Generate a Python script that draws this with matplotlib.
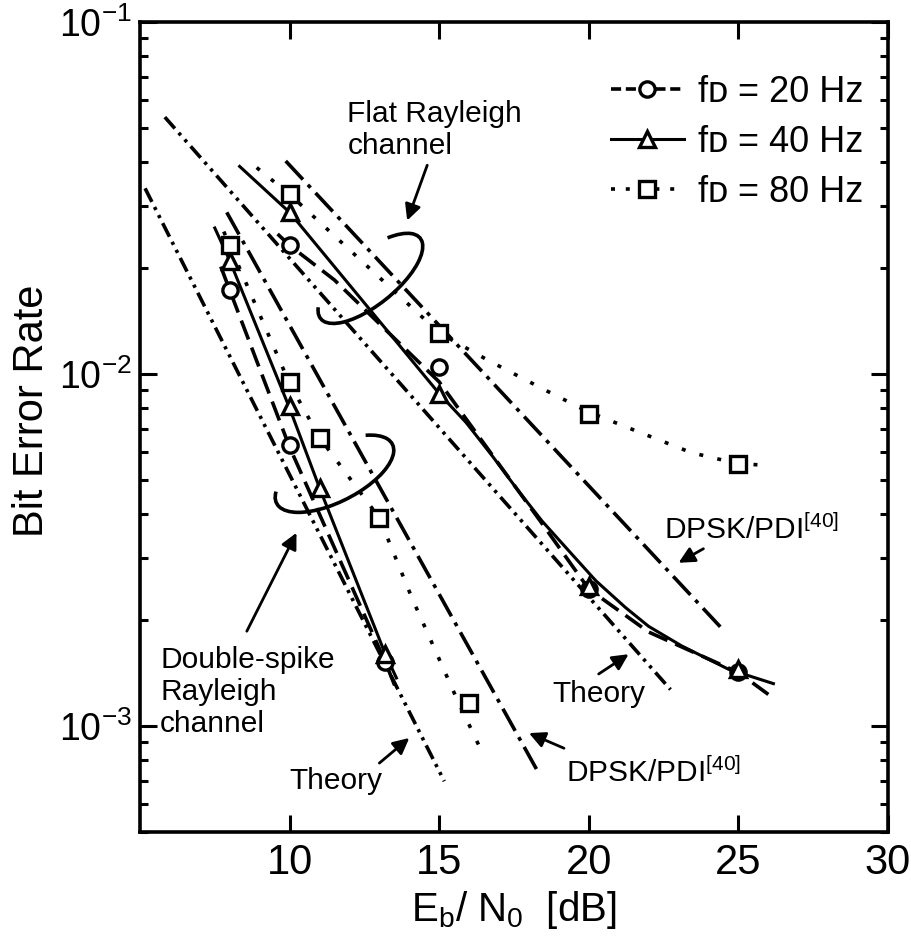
import numpy as np
import matplotlib
matplotlib.use("Agg")
import matplotlib.pyplot as plt
from matplotlib.lines import Line2D
from matplotlib.patches import Arc
from matplotlib import transforms

plt.rcParams["font.family"] = ["Liberation Sans", "DejaVu Sans"]
plt.rcParams["mathtext.fontset"] = "custom"
plt.rcParams["mathtext.rm"] = "Liberation Sans"
plt.rcParams["mathtext.it"] = "Liberation Sans:italic"

# ---- measured points (markers) ----
flat_x = [10, 15, 20, 25]
flat_20 = [0.0232, 0.01045, 0.00245, 0.00142]
flat_40 = [0.0288, 0.0088, 0.0025, 0.00145]
flat_80 = [0.0324, 0.0131, 0.0077, 0.00556]

ds20_x = [8, 10, 13.2]
ds20_y = [0.0173, 0.0063, 0.00152]
ds40_x = [8, 10, 11, 13.2]
ds40_y = [0.021, 0.0081, 0.00475, 0.0016]
ds80_x = [8, 10, 11, 13, 16]
ds80_y = [0.0232, 0.0095, 0.0066, 0.0039, 0.00116]

# ---- fitted curves ----
flat20_cx = [9.6, 10, 11.5, 15, 18.4, 20, 22, 25, 26]
flat20_cy = [0.025, 0.0232, 0.0185, 0.0095, 0.0038, 0.00245, 0.00185, 0.00142, 0.00123]
flat40_cx = [8.33, 10, 15, 15.9, 16.77, 17.57, 18.43, 19.43, 20.23, 21.23, 22.0, 23.1, 24.67, 26.17]
flat40_cy = [0.0389, 0.0288, 0.0088, 0.00728, 0.00586, 0.00475, 0.00383, 0.00308,
             0.00259, 0.00217, 0.00192, 0.00169, 0.00145, 0.00132]
flat80_cx = [8.9, 10, 15, 16.67, 18.57, 20, 21.57, 23.43, 25, 26.1]
flat80_cy = [0.0386, 0.0324, 0.0131, 0.0109, 0.00898, 0.0078, 0.0069, 0.00598, 0.00556, 0.0055]

ds20_cx = [7.7, 8, 10, 13.2, 13.6]
ds20_cy = [0.0202, 0.0173, 0.0062, 0.00152, 0.00125]
ds40_cx = [7.5, 8, 10, 11, 13.2, 13.57]
ds40_cy = [0.026, 0.021, 0.008, 0.00475, 0.0016, 0.00137]
ds80_cx = [7.8, 8, 10, 11, 13, 14.1, 15.6, 16.5]
ds80_cy = [0.0254, 0.0232, 0.0094, 0.0066, 0.0039, 0.0023, 0.00119, 0.00082]

# ---- reference lines ----
flat_theory_x = [5.83, 22.73]
flat_theory_y = [0.0537, 0.00127]
flat_dpsk_x = [9.87, 24.43]
flat_dpsk_y = [0.0403, 0.0019]
ds_theory_x = [5.17, 15.17]
ds_theory_y = [0.0337, 0.000697]
ds_dpsk_x = [7.9, 18.33]
ds_dpsk_y = [0.0288, 0.000734]

LW = 2.6
theory_ls = (0, (4.2, 1.6, 0.9, 1.6, 0.9, 1.6))
dpsk_ls = (0, (7, 2.0, 1.1, 2.0))
dash_ls = (0, (5.6, 2.4))
dot_ls = (0, (1.1, 4.0))

fig = plt.figure(figsize=(9.12, 9.47), dpi=100)
ax = fig.add_axes([0.1535, 0.1214, 0.8202, 0.8553])
ax.set_yscale("log")
ax.set_xlim(5, 30)
ax.set_ylim(5e-4, 1e-1)

# reference lines
for xs, ys, ls in [(flat_theory_x, flat_theory_y, theory_ls),
                   (ds_theory_x, ds_theory_y, theory_ls),
                   (flat_dpsk_x, flat_dpsk_y, dpsk_ls),
                   (ds_dpsk_x, ds_dpsk_y, dpsk_ls)]:
    ax.plot(xs, ys, color="black", lw=LW, linestyle=ls, dash_capstyle="butt")

# fitted curves
ax.plot(flat20_cx, flat20_cy, color="black", lw=LW, linestyle=dash_ls)
ax.plot(ds20_cx, ds20_cy, color="black", lw=LW, linestyle=dash_ls)
ax.plot(flat40_cx, flat40_cy, color="black", lw=2.2)
ax.plot(ds40_cx, ds40_cy, color="black", lw=2.2)
ax.plot(flat80_cx, flat80_cy, color="black", lw=LW, linestyle=dot_ls)
ax.plot(ds80_cx, ds80_cy, color="black", lw=LW, linestyle=dot_ls)

# markers
mk = dict(color="none", markerfacecolor="white", markeredgecolor="black",
          markeredgewidth=2.4, linestyle="none")
ax.plot(flat_x, flat_20, marker="o", markersize=11, **mk)
ax.plot(ds20_x, ds20_y, marker="o", markersize=11, **mk)
ax.plot(flat_x, flat_40, marker="^", markersize=12, **mk)
ax.plot(ds40_x, ds40_y, marker="^", markersize=12, **mk)
ax.plot(flat_x, flat_80, marker="s", markersize=11, **mk)
ax.plot(ds80_x, ds80_y, marker="s", markersize=11, **mk)

# open rings marking the two groups
for (cx, cy, w, h, ang, t1, t2) in [(12.7, 0.0187, 1.28, 0.52, 39, 170, 388),
                                    (11.5, 0.00521, 1.30, 0.56, 27, 170, 384)]:
    tr = fig.dpi_scale_trans + transforms.ScaledTranslation(cx, cy, ax.transData)
    ax.add_patch(Arc((0, 0), w, h, angle=ang, theta1=t1, theta2=t2,
                     transform=tr, color="black", lw=2.6))

fs = 21.5
arrow = dict(arrowstyle="-|>", lw=2.0, color="black", mutation_scale=24,
             shrinkA=0, shrinkB=0)
ax.text(11.93, 0.0493, "Flat Rayleigh\nchannel", fontsize=fs, ha="left", va="center")
ax.annotate("", xy=(13.93, 0.0273), xytext=(14.6, 0.0392), arrowprops=arrow)
ax.text(5.67, 0.00125, "Double-spike\nRayleigh\nchannel", fontsize=fs,
        ha="left", va="center")
ax.annotate("", xy=(10.23, 0.00354), xytext=(8.57, 0.00186), arrowprops=arrow)
ax.text(11.53, 0.000698, "Theory", fontsize=fs, ha="center", va="center")
ax.annotate("", xy=(14.0, 0.000925), xytext=(13.0, 0.000785), arrowprops=arrow)
ax.text(20.33, 0.00123, "Theory", fontsize=fs, ha="center", va="center")
ax.annotate("", xy=(21.33, 0.0016), xytext=(20.33, 0.001406), arrowprops=arrow)
ax.text(22.5, 0.0034, r"DPSK/PDI$^{\mathregular{[40]}}$", fontsize=fs,
        ha="left", va="baseline")
ax.annotate("", xy=(23.0, 0.00291), xytext=(23.83, 0.00319), arrowprops=arrow)
ax.text(19.23, 0.000693, r"DPSK/PDI$^{\mathregular{[40]}}$", fontsize=fs,
        ha="left", va="baseline")
ax.annotate("", xy=(18.0, 0.000955), xytext=(19.17, 0.000865), arrowprops=arrow)

# legend
handles = [
    Line2D([], [], color="black", lw=LW, linestyle=(0, (2.8, 1.3)), marker="o",
           markersize=11, markerfacecolor="white", markeredgewidth=2.4),
    Line2D([], [], color="black", lw=2.2, marker="^", markersize=12,
           markerfacecolor="white", markeredgewidth=2.4),
    Line2D([], [], color="black", lw=LW, linestyle=(0, (1.1, 3.0)), marker="s",
           markersize=11, markerfacecolor="white", markeredgewidth=2.4),
]
labels = ["f\u1d05 = 20 Hz", "f\u1d05 = 40 Hz", "f\u1d05 = 80 Hz"]
ax.legend(handles, labels, loc="upper right", bbox_to_anchor=(0.967, 0.935),
          frameon=False, fontsize=26, handlelength=2.0, handletextpad=0.4,
          labelspacing=0.42, borderpad=0, borderaxespad=0, numpoints=1)

# axes styling
ax.set_xticks([10, 15, 20, 25, 30])
ax.set_yticks([1e-3, 1e-2, 1e-1])
ax.tick_params(axis="both", which="both", direction="in", top=True, right=True,
               width=2.2)
ax.tick_params(axis="both", which="major", length=12)
ax.tick_params(axis="both", which="minor", length=6)
ax.tick_params(axis="x", labelsize=30, pad=8)
ax.tick_params(axis="y", labelsize=27, pad=6)
for sp in ax.spines.values():
    sp.set_linewidth(2.6)

ax.set_xlabel(r"E$_{\mathregular{b}}$/ N$_{\mathregular{0}}$  [dB]", fontsize=29)
ax.xaxis.set_label_coords(0.5, -0.07)
ax.set_ylabel("Bit Error Rate", fontsize=30)
ax.yaxis.set_label_coords(-0.118, 0.52)

fig.savefig("out.png", dpi=100)
